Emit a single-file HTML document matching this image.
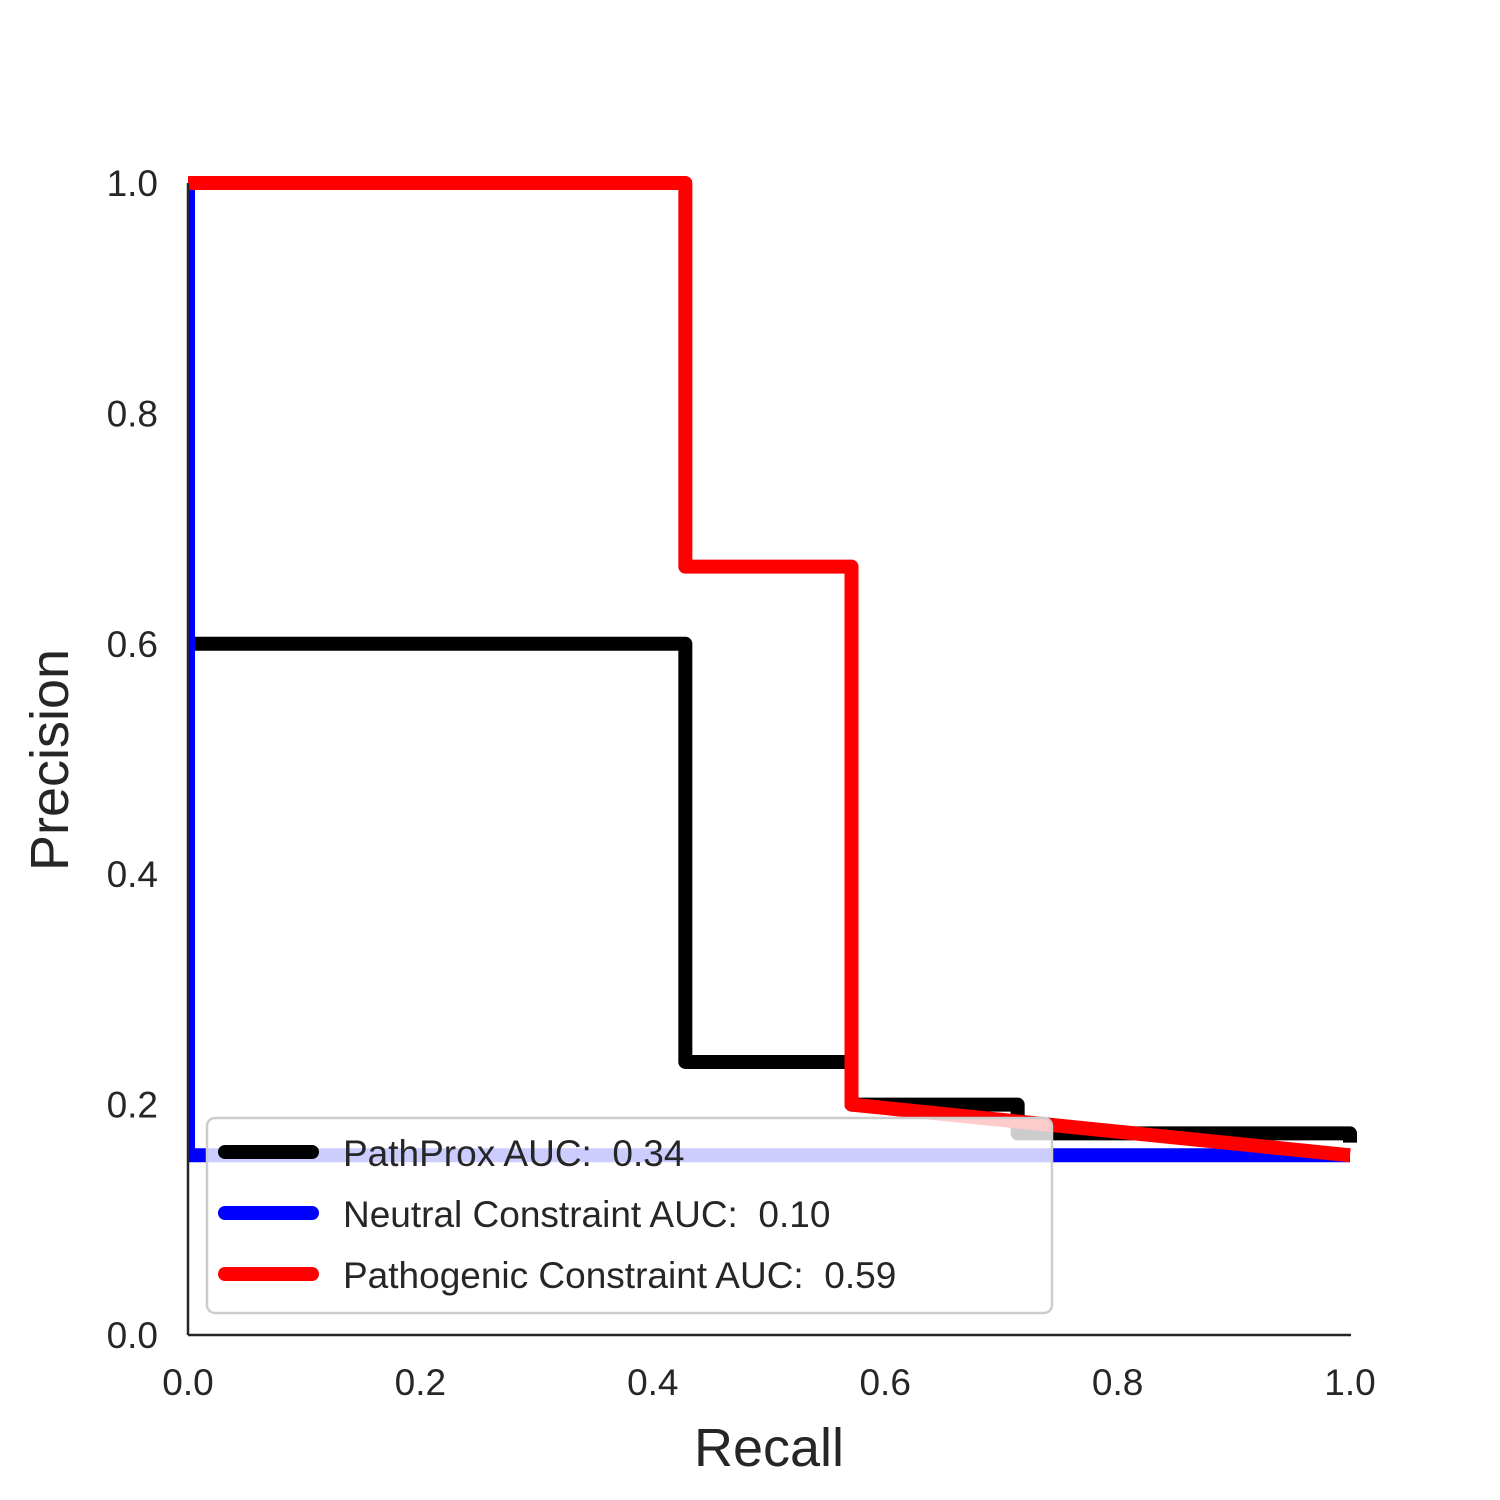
<!DOCTYPE html>
<html><head><meta charset="utf-8"><style>html,body{margin:0;padding:0;background:#fff}svg{display:block}</style></head>
<body>
<svg width="1500" height="1500" viewBox="0 0 1500 1500" xmlns="http://www.w3.org/2000/svg" font-family="Liberation Sans, DejaVu Sans, sans-serif">
<defs><clipPath id="plotclip"><rect x="188" y="170" width="1175" height="1165"/></clipPath></defs>
<g id="ticks"></g>
<g id="series" clip-path="url(#plotclip)"></g>
<line x1="188" y1="183" x2="188" y2="1335" stroke="#262626" stroke-width="2.5"/>
<line x1="188" y1="1335" x2="1351" y2="1335" stroke="#262626" stroke-width="2.5"/>
<text x="769" y="1466" font-size="54" fill="#262626" text-anchor="middle">Recall</text>
<text transform="translate(68,760) rotate(-90)" font-size="54" fill="#262626" text-anchor="middle">Precision</text>
<g>
<rect x="207" y="1118" width="845" height="195" rx="8" fill="#fff" fill-opacity="0.8" stroke="#cccccc" stroke-width="2.5"/>
<line x1="225" y1="1152" x2="312" y2="1152" stroke="#000" stroke-width="14" stroke-linecap="round"/>
<text x="343" y="1166" font-size="37" fill="#262626" xml:space="preserve">PathProx AUC:  0.34</text>
<line x1="225" y1="1213" x2="312" y2="1213" stroke="#0000ff" stroke-width="14" stroke-linecap="round"/>
<text x="343" y="1227" font-size="37" fill="#262626" xml:space="preserve">Neutral Constraint AUC:  0.10</text>
<line x1="225" y1="1274" x2="312" y2="1274" stroke="#ff0000" stroke-width="14" stroke-linecap="round"/>
<text x="343" y="1288" font-size="37" fill="#262626" xml:space="preserve">Pathogenic Constraint AUC:  0.59</text>
</g>
<script>
const xTicks = [0, 0.2, 0.4, 0.6, 0.8, 1.0];
const yTicks = [0, 0.2, 0.4, 0.6, 0.8, 1.0];
const pathproxRecall = [0, 0.428, 0.428, 0.571, 0.571, 0.714, 0.714, 1.0, 1.0];
const pathproxPrecision = [0.6, 0.6, 0.237, 0.237, 0.2, 0.2, 0.175, 0.175, 0.167];
const neutralRecall = [0, 0, 1.0];
const neutralPrecision = [1.0, 0.156, 0.156];
const pathogenicRecall = [0, 0.428, 0.428, 0.571, 0.571, 1.0];
const pathogenicPrecision = [1.0, 1.0, 0.667, 0.667, 0.2, 0.156];

const NS = 'http://www.w3.org/2000/svg';
function xs(v){ return 188 + v * 1162; }
function ys(v){ return 1335 - v * 1152; }

const tg = document.getElementById('ticks');
xTicks.forEach(v => {
  const t = document.createElementNS(NS, 'text');
  t.setAttribute('x', xs(v)); t.setAttribute('y', 1395);
  t.setAttribute('font-size', '37'); t.setAttribute('fill', '#262626');
  t.setAttribute('text-anchor', 'middle');
  t.textContent = v.toFixed(1);
  
  
  tg.appendChild(t);
});
yTicks.forEach(v => {
  const t = document.createElementNS(NS, 'text');
  t.setAttribute('x', 158); t.setAttribute('y', ys(v) + 13);
  t.setAttribute('font-size', '37'); t.setAttribute('fill', '#262626');
  t.setAttribute('text-anchor', 'end');
  t.textContent = v.toFixed(1);
  
  
  tg.appendChild(t);
});

const sg = document.getElementById('series');
function drawSeries(rx, py, color, name){
  const p = document.createElementNS(NS, 'polyline');
  p.setAttribute('points', rx.map((r, i) => xs(r) + ',' + ys(py[i])).join(' '));
  p.setAttribute('fill', 'none');
  p.setAttribute('stroke', color);
  p.setAttribute('stroke-width', '14');
  p.setAttribute('stroke-linejoin', 'round');
  
  
  sg.appendChild(p);
}
drawSeries(pathproxRecall, pathproxPrecision, '#000000', 'pathprox-curve');
drawSeries(neutralRecall, neutralPrecision, '#0000ff', 'neutral-constraint-curve');
drawSeries(pathogenicRecall, pathogenicPrecision, '#ff0000', 'pathogenic-constraint-curve');
</script>
</svg>
</body></html>
